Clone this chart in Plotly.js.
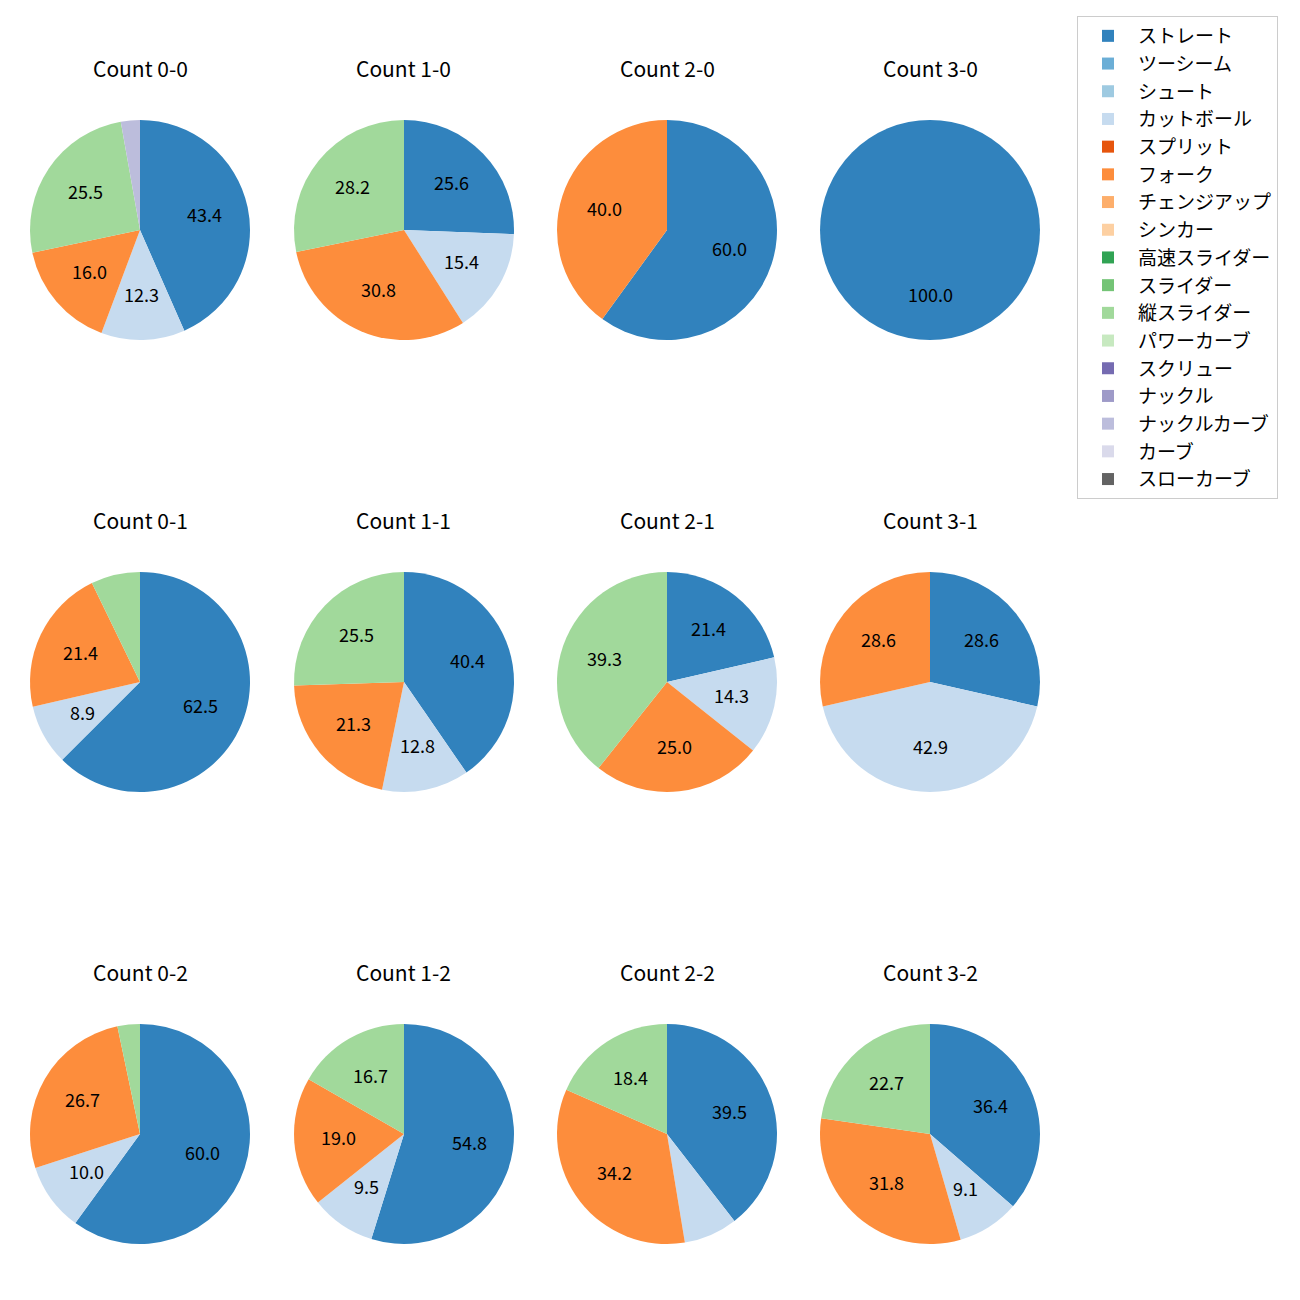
<!DOCTYPE html>
<html>
<head>
<meta charset="utf-8">
<script src="https://cdn.plot.ly/plotly-3.0.1.min.js"></script>
<style>html,body{margin:0;padding:0;background:#fff;}</style>
</head>
<body>
<div id="chart" style="width:1300px;height:1300px;"></div>
<script>
// ---- data ----
const counts = ['0-0','1-0','2-0','3-0','0-1','1-1','2-1','3-1','0-2','1-2','2-2','3-2'];
const pitchTypes = ['ストレート','ツーシーム','シュート','カットボール','スプリット','フォーク','チェンジアップ','シンカー','高速スライダー','スライダー','縦スライダー','パワーカーブ','スクリュー','ナックル','ナックルカーブ','カーブ','スローカーブ'];
// percentage per count (same order as counts)
const straight   = [43.4, 25.6, 60.0, 100.0, 62.5, 40.4, 21.4, 28.6, 60.0, 54.8, 39.5, 36.4];
const cutter     = [12.3, 15.4,  0.0,   0.0,  8.9, 12.8, 14.3, 42.9, 10.0,  9.5,  7.9,  9.1];
const forkball   = [16.0, 30.8, 40.0,   0.0, 21.4, 21.3, 25.0, 28.6, 26.7, 19.0, 34.2, 31.8];
const vSlider    = [25.5, 28.2,  0.0,   0.0,  7.2, 25.5, 39.3,  0.0,  3.3, 16.7, 18.4, 22.7];
const knuckleCurve = [2.8, 0.0,  0.0,   0.0,  0.0,  0.0,  0.0,  0.0,  0.0,  0.0,  0.0,  0.0];
const labelThreshold = 8;

// ---- styles ----
const colors = ['#3182bd','#6baed6','#9ecae1','#c6dbef','#e6550d','#fd8d3c','#fdae6b','#fdd0a2','#31a354','#74c476','#a1d99b','#c7e9c0','#756bb1','#9e9ac8','#bcbddc','#dadaeb','#636363'];
const FONT = "'Noto Sans CJK JP', 'Noto Sans', sans-serif";
const W = 1300, H = 1300;
const colCenters = [140, 404, 667, 930];
const rowCenters = [230, 682, 1134];
const titleY = [68, 520, 972];
const R = 110;

function valuesFor(k) {
  const v = new Array(pitchTypes.length).fill(0);
  v[pitchTypes.indexOf('ストレート')] = straight[k];
  v[pitchTypes.indexOf('カットボール')] = cutter[k];
  v[pitchTypes.indexOf('フォーク')] = forkball[k];
  v[pitchTypes.indexOf('縦スライダー')] = vSlider[k];
  v[pitchTypes.indexOf('ナックルカーブ')] = knuckleCurve[k];
  return v;
}

const traces = [];
const annotations = [];
counts.forEach((c, k) => {
  const col = k % 4, row = Math.floor(k / 4);
  const cx = colCenters[col], cy = rowCenters[row];
  const vals = valuesFor(k);
  traces.push({
    type: 'pie',
    labels: pitchTypes,
    values: vals,
    sort: false,
    direction: 'clockwise',
    rotation: 0,
    textinfo: 'none',
    hoverinfo: 'label+percent',
    marker: {colors: colors, line: {width: 0}},
    domain: {x: [(cx - R) / W, (cx + R) / W], y: [1 - (cy + R) / H, 1 - (cy - R) / H]},
    showlegend: true
  });
  annotations.push({
    text: 'Count ' + c, xref: 'paper', yref: 'paper',
    x: cx / W, y: 1 - titleY[row] / H, xanchor: 'center', yanchor: 'middle',
    showarrow: false, font: {family: FONT, size: 21, color: '#000'}
  });
  const total = vals.reduce((a, b) => a + b, 0);
  let cum = 0;
  vals.forEach((v) => {
    const pct = 100 * v / total;
    if (v > 0 && pct >= labelThreshold) {
      const th = 2 * Math.PI * (cum + v / 2) / total;
      const px = cx + 0.6 * R * Math.sin(th);
      const py = cy - 0.6 * R * Math.cos(th) - 2;
      annotations.push({
        text: pct.toFixed(1), xref: 'paper', yref: 'paper',
        x: px / W, y: 1 - py / H, xanchor: 'center', yanchor: 'middle',
        showarrow: false, font: {family: FONT, size: 18, color: '#000'}
      });
    }
    cum += v;
  });
});

const layout = {
  width: W, height: H,
  margin: {l: 0, r: 0, t: 0, b: 0},
  paper_bgcolor: '#fff',
  font: {family: FONT, color: '#000'},
  showlegend: true,
  legend: {
    x: 1077 / W, y: 1 - 16 / H, xanchor: 'left', yanchor: 'top',
    bgcolor: '#fff', bordercolor: '#cccccc', borderwidth: 1,
    font: {family: FONT, size: 19, color: '#000'},
    itemwidth: 50,
    traceorder: 'normal'
  },
  annotations: annotations
};

Plotly.newPlot('chart', traces, layout, {displayModeBar: false, staticPlot: true});
</script>
</body>
</html>
